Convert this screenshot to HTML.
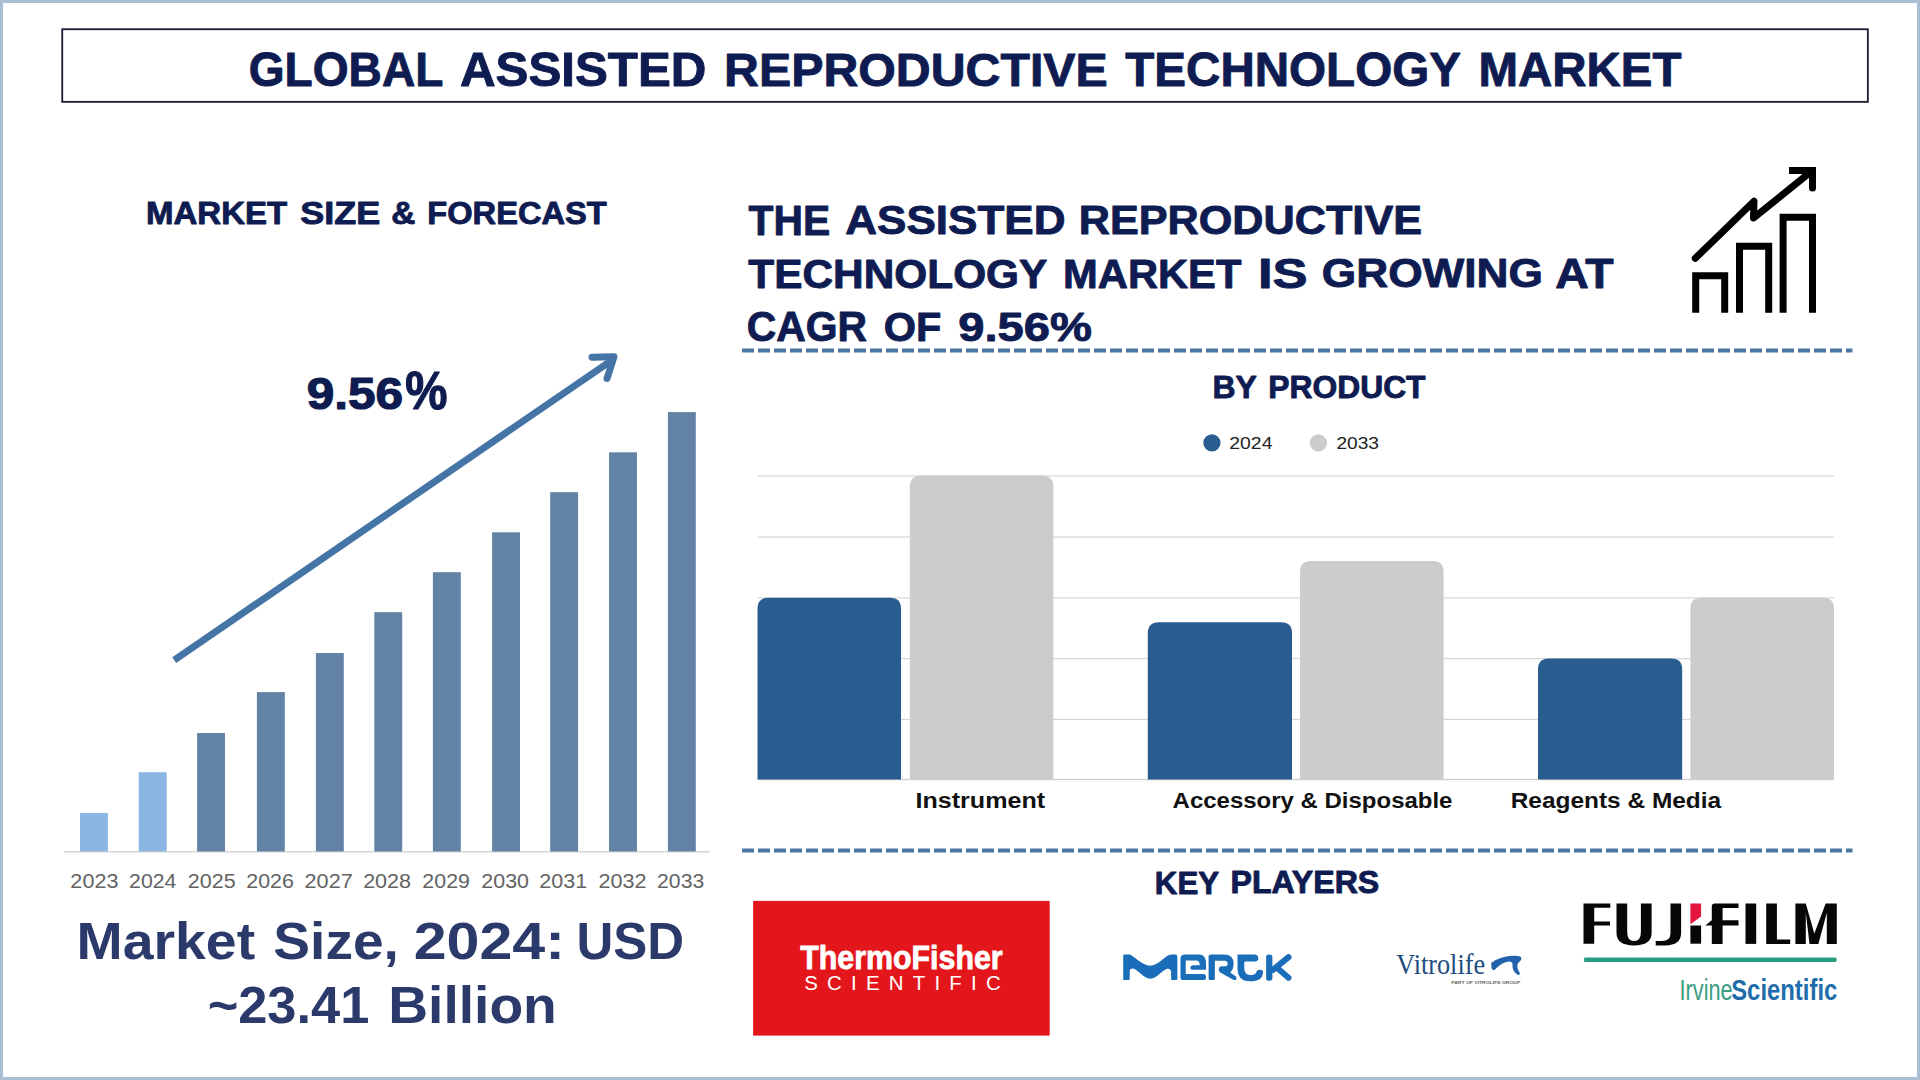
<!DOCTYPE html>
<html><head><meta charset="utf-8"><title>Global Assisted Reproductive Technology Market</title>
<style>html,body{margin:0;padding:0;background:#fff;overflow:hidden;width:1920px;height:1080px;} svg{display:block;}</style></head>
<body><svg width="1920" height="1080" viewBox="0 0 1920 1080">
<rect width="1920" height="1080" fill="#ffffff"/>
<rect x="1.5" y="1.5" width="1917" height="1077" fill="none" stroke="#a6bfd5" stroke-width="3"/>
<rect x="62.25" y="29.25" width="1805.6" height="72.6" fill="none" stroke="#161b33" stroke-width="1.8"/>
<rect x="64" y="851" width="646" height="1.6" fill="#d9d9d9"/>
<rect x="80" y="813" width="27.9" height="38.5" fill="#8bb5e2"/>
<rect x="138.75" y="772.2" width="27.9" height="79.3" fill="#8bb5e2"/>
<rect x="197.1" y="733" width="27.9" height="118.5" fill="#6283a5"/>
<rect x="256.9" y="692.1" width="27.9" height="159.4" fill="#6283a5"/>
<rect x="315.9" y="653" width="27.9" height="198.5" fill="#6283a5"/>
<rect x="374.3" y="612.2" width="27.9" height="239.3" fill="#6283a5"/>
<rect x="432.9" y="572.2" width="27.9" height="279.3" fill="#6283a5"/>
<rect x="492.1" y="532.3" width="27.9" height="319.2" fill="#6283a5"/>
<rect x="550.2" y="492.2" width="27.9" height="359.3" fill="#6283a5"/>
<rect x="609.05" y="452.3" width="27.9" height="399.2" fill="#6283a5"/>
<rect x="667.9" y="412.1" width="27.9" height="439.4" fill="#6283a5"/>
<line x1="174.2" y1="660.1" x2="611" y2="360.8" stroke="#4475a6" stroke-width="7"/>
<path d="M592,357.2 L614,356.8 L607,378.5" fill="none" stroke="#4475a6" stroke-width="7" stroke-linecap="round" stroke-linejoin="round"/>
<line x1="742" y1="350.5" x2="1852.5" y2="350.5" stroke="#4a77a3" stroke-width="4" stroke-dasharray="12 4"/>
<line x1="742" y1="850.5" x2="1852.5" y2="850.5" stroke="#4a77a3" stroke-width="4" stroke-dasharray="12 4"/>
<g fill="none" stroke="#000" stroke-width="7" stroke-linejoin="miter"><path d="M1695.7,312.7 V275.8 H1724.7 V312.7"/><path d="M1739.5,312.7 V246.2 H1768.7 V312.7"/><path d="M1783.1,312.7 V217.2 H1812.5 V312.7"/><path d="M1695.3,258.3 L1754,201.3 L1753.5,218 L1810,172.5" stroke-linecap="round" stroke-linejoin="round"/><path d="M1789,170.6 H1812.5 V188" stroke-linecap="butt"/></g>
<circle cx="1812.5" cy="188" r="3.5" fill="#000"/>
<rect x="757.5" y="475.30" width="1076.5" height="1.2" fill="#d6d6d6"/>
<rect x="757.5" y="536.40" width="1076.5" height="1.2" fill="#d6d6d6"/>
<rect x="757.5" y="597.30" width="1076.5" height="1.2" fill="#d6d6d6"/>
<rect x="757.5" y="658.00" width="1076.5" height="1.2" fill="#d6d6d6"/>
<rect x="757.5" y="718.80" width="1076.5" height="1.2" fill="#d6d6d6"/>
<rect x="757.5" y="778.9" width="1076.5" height="1.3" fill="#cfcfcf"/>
<path d="M757.5,779.4 V608.7 Q757.5,597.7 768.5,597.7 H890 Q901,597.7 901,608.7 V779.4 Z" fill="#2a5d8f"/>
<path d="M909.8,779.4 V486.8 Q909.8,475.8 920.8,475.8 H1042.3 Q1053.3,475.8 1053.3,486.8 V779.4 Z" fill="#cccccc"/>
<path d="M1147.8,779.4 V633.2 Q1147.8,622.2 1158.8,622.2 H1281 Q1292,622.2 1292,633.2 V779.4 Z" fill="#2a5d8f"/>
<path d="M1300,779.4 V572 Q1300,561 1311,561 H1432.6 Q1443.6,561 1443.6,572 V779.4 Z" fill="#cccccc"/>
<path d="M1538,779.4 V669.4 Q1538,658.4 1549,658.4 H1671.2 Q1682.2,658.4 1682.2,669.4 V779.4 Z" fill="#2a5d8f"/>
<path d="M1690.4,779.4 V608.7 Q1690.4,597.7 1701.4,597.7 H1823 Q1834,597.7 1834,608.7 V779.4 Z" fill="#cccccc"/>
<circle cx="1211.9" cy="442.9" r="8.6" fill="#2a5d8f"/>
<circle cx="1318.4" cy="442.9" r="8.6" fill="#cccccc"/>
<rect x="753.1" y="900.9" width="296.6" height="134.7" fill="#e3171b"/>
<g fill="#1a6db8"><g transform="translate(1118,948) scale(0.0520833)"><path d="M100,600 V150 Q100,125 130,125 H230 C330,170 450,330 620,340 C800,330 900,125 1030,125 H1100 Q1140,125 1140,170 V595 Q1140,615 1120,615 H1040 Q1020,615 1020,595 V450 Q1010,390 950,400 C850,420 750,590 620,590 C490,590 390,420 290,395 Q225,385 225,450 V595 Q225,615 205,615 H120 Q100,615 100,600 Z"/><path d="M1200,560 V200 Q1200,125 1290,125 H1560 Q1690,125 1690,300 V420 H1420 Q1390,420 1390,380 Q1390,330 1440,330 H1570 Q1570,240 1500,240 H1300 V500 H1640 Q1690,500 1690,560 Q1690,615 1640,615 H1260 Q1200,615 1200,560 Z"/></g><g transform="translate(1200,948) scale(0.0520833)"><path d="M165,590 V170 Q165,125 220,125 H460 Q645,125 645,300 Q645,420 580,470 L690,545 Q720,580 690,610 Q670,625 630,605 L390,470 Q355,450 360,400 Q365,350 410,350 H500 Q530,350 530,300 Q530,245 470,245 H285 V590 Q285,615 255,615 H195 Q165,615 165,590 Z"/><path d="M1120,200 Q1120,125 1040,125 H720 V380 Q720,640 960,640 Q1210,640 1210,460 Q1210,420 1150,420 Q1090,420 1080,470 Q1050,520 960,520 Q850,520 850,380 V280 Q850,260 880,260 H1040 Q1120,260 1120,200 Z"/><path d="M1270,170 Q1270,125 1330,125 Q1390,125 1390,170 V585 Q1390,630 1330,630 Q1270,630 1270,585 Z"/><path d="M1400,420 L1700,175 M1500,400 L1700,570" fill="none" stroke="#1a6db8" stroke-width="115" stroke-linecap="round"/></g></g>
<path d="M1491.2,963 Q1500,956 1514,955.8 Q1521.5,955.6 1521.5,958.5 Q1521,961 1518,963 Q1516,967 1519.8,973 Q1520,975.5 1518,975 Q1512,971 1512.5,965 Q1513,961.5 1509,961.5 Q1502,962 1495,969.5 Q1492,971 1491.5,968 Z" fill="#2162aa"/>
<g fill="#060606"><path d="M1583.5,943.7 V903.5 H1610.3 V907.8 H1594.2 V921.4 H1610 V925.5 H1594.2 V943.7 Z"/><path d="M1616.5,903.5 H1627.2 V932 Q1627.2,941 1634,941 Q1640.9,941 1640.9,932 V903.5 H1651.6 V933 Q1651.6,945.4 1634,945.4 Q1616.5,945.4 1616.5,933 Z"/><path d="M1670.5,903.5 H1681.1 V933 Q1681.1,945.4 1665,945.4 H1655.7 V941 H1662 Q1670.5,941 1670.5,933 Z"/><path d="M1690.4,925.5 H1701.1 V943.7 H1690.4 Z"/><path d="M1711.8,943.9 V906 Q1711.8,903.5 1715,903.5 H1738.5 V908 H1722.6 V920.2 H1738.5 V925.4 H1722.6 V943.9 Z M1705.2,925.4 L1711.8,920.2 V925.4 Z"/><path d="M1745.5,903.5 H1756.2 V943.9 H1745.5 Z"/><path d="M1766.2,903.5 H1776.9 V939.4 H1790.2 V943.9 H1766.2 Z"/><path d="M1795.4,943.9 V903.5 H1805.8 L1814.3,933.5 L1825.7,903.5 H1836.8 V943.9 H1826.8 V912.8 L1818.4,943.9 H1809.5 L1805.8,912.8 V943.9 Z"/></g>
<path d="M1690.4,903.5 H1701.1 V916.6 L1690.4,924.2 Z" fill="#e3173e"/>
<rect x="1583.9" y="957.4" width="252.7" height="4.7" rx="1.5" fill="#2a9c82"/>
<text x="248.77" y="85.75" font-family="'Liberation Sans', sans-serif" font-weight="bold" font-size="47.68" fill="#0f1c52" stroke="#0f1c52" stroke-width="0.9" stroke-linejoin="round" textLength="194.57" lengthAdjust="spacingAndGlyphs">GLOBAL</text>
<text x="459.95" y="85.75" font-family="'Liberation Sans', sans-serif" font-weight="bold" font-size="47.68" fill="#0f1c52" stroke="#0f1c52" stroke-width="0.9" stroke-linejoin="round" textLength="246.49" lengthAdjust="spacingAndGlyphs">ASSISTED</text>
<text x="724.12" y="85.97" font-family="'Liberation Sans', sans-serif" font-weight="bold" font-size="46.89" fill="#0f1c52" stroke="#0f1c52" stroke-width="0.9" stroke-linejoin="round" textLength="383.66" lengthAdjust="spacingAndGlyphs">REPRODUCTIVE</text>
<text x="1125.22" y="85.91" font-family="'Liberation Sans', sans-serif" font-weight="bold" font-size="47.89" fill="#0f1c52" stroke="#0f1c52" stroke-width="0.9" stroke-linejoin="round" textLength="335.72" lengthAdjust="spacingAndGlyphs">TECHNOLOGY</text>
<text x="1478.48" y="85.85" font-family="'Liberation Sans', sans-serif" font-weight="bold" font-size="47.86" fill="#0f1c52" stroke="#0f1c52" stroke-width="0.9" stroke-linejoin="round" textLength="203.04" lengthAdjust="spacingAndGlyphs">MARKET</text>
<text x="146.06" y="224.28" font-family="'Liberation Sans', sans-serif" font-weight="bold" font-size="31.14" fill="#0f1c52" stroke="#0f1c52" stroke-width="0.9" stroke-linejoin="round" textLength="141.10" lengthAdjust="spacingAndGlyphs">MARKET</text>
<text x="300.16" y="224.00" font-family="'Liberation Sans', sans-serif" font-weight="bold" font-size="31.02" fill="#0f1c52" stroke="#0f1c52" stroke-width="0.9" stroke-linejoin="round" textLength="79.98" lengthAdjust="spacingAndGlyphs">SIZE</text>
<text x="391.36" y="224.35" font-family="'Liberation Sans', sans-serif" font-weight="bold" font-size="31.83" fill="#0f1c52" stroke="#0f1c52" stroke-width="0.9" stroke-linejoin="round" textLength="24.05" lengthAdjust="spacingAndGlyphs">&amp;</text>
<text x="427.37" y="224.35" font-family="'Liberation Sans', sans-serif" font-weight="bold" font-size="31.83" fill="#0f1c52" stroke="#0f1c52" stroke-width="0.9" stroke-linejoin="round" textLength="179.26" lengthAdjust="spacingAndGlyphs">FORECAST</text>
<text x="306.65" y="408.60" font-family="'Liberation Sans', sans-serif" font-weight="bold" font-size="44.83" fill="#0f1c50" stroke="#0f1c50" stroke-width="1.2" stroke-linejoin="round" textLength="96.33" lengthAdjust="spacingAndGlyphs">9.56</text>
<text x="405.37" y="408.60" font-family="'Liberation Sans', sans-serif" font-weight="bold" font-size="54.14" fill="#0f1c50" stroke="#0f1c50" stroke-width="1.2" stroke-linejoin="round" textLength="42.16" lengthAdjust="spacingAndGlyphs">%</text>
<text x="76.62" y="959.20" font-family="'Liberation Sans', sans-serif" font-weight="bold" font-size="52.18" fill="#2c3a6b" textLength="178.49" lengthAdjust="spacingAndGlyphs">Market</text>
<text x="273.38" y="959.20" font-family="'Liberation Sans', sans-serif" font-weight="bold" font-size="52.18" fill="#2c3a6b" textLength="125.51" lengthAdjust="spacingAndGlyphs">Size,</text>
<text x="413.65" y="959.20" font-family="'Liberation Sans', sans-serif" font-weight="bold" font-size="52.18" fill="#2c3a6b" textLength="151.27" lengthAdjust="spacingAndGlyphs">2024:</text>
<text x="576.52" y="958.95" font-family="'Liberation Sans', sans-serif" font-weight="bold" font-size="52.13" fill="#2c3a6b" textLength="107.69" lengthAdjust="spacingAndGlyphs">USD</text>
<text x="207.65" y="1022.50" font-family="'Liberation Sans', sans-serif" font-weight="bold" font-size="52.56" fill="#2c3a6b" textLength="161.66" lengthAdjust="spacingAndGlyphs">~23.41</text>
<text x="388.23" y="1022.50" font-family="'Liberation Sans', sans-serif" font-weight="bold" font-size="52.56" fill="#2c3a6b" textLength="168.62" lengthAdjust="spacingAndGlyphs">Billion</text>
<text x="748.62" y="234.70" font-family="'Liberation Sans', sans-serif" font-weight="bold" font-size="41.83" fill="#0f1c52" stroke="#0f1c52" stroke-width="0.9" stroke-linejoin="round" textLength="81.66" lengthAdjust="spacingAndGlyphs">THE</text>
<text x="845.16" y="234.35" font-family="'Liberation Sans', sans-serif" font-weight="bold" font-size="41.13" fill="#0f1c52" stroke="#0f1c52" stroke-width="0.9" stroke-linejoin="round" textLength="220.43" lengthAdjust="spacingAndGlyphs">ASSISTED</text>
<text x="1078.69" y="234.44" font-family="'Liberation Sans', sans-serif" font-weight="bold" font-size="41.09" fill="#0f1c52" stroke="#0f1c52" stroke-width="0.9" stroke-linejoin="round" textLength="343.35" lengthAdjust="spacingAndGlyphs">REPRODUCTIVE</text>
<text x="748.37" y="287.91" font-family="'Liberation Sans', sans-serif" font-weight="bold" font-size="40.87" fill="#0f1c52" stroke="#0f1c52" stroke-width="0.9" stroke-linejoin="round" textLength="298.95" lengthAdjust="spacingAndGlyphs">TECHNOLOGY</text>
<text x="1063.07" y="287.58" font-family="'Liberation Sans', sans-serif" font-weight="bold" font-size="41.42" fill="#0f1c52" stroke="#0f1c52" stroke-width="0.9" stroke-linejoin="round" textLength="178.29" lengthAdjust="spacingAndGlyphs">MARKET</text>
<text x="1257.98" y="287.56" font-family="'Liberation Sans', sans-serif" font-weight="bold" font-size="42.48" fill="#0f1c52" stroke="#0f1c52" stroke-width="0.9" stroke-linejoin="round" textLength="49.64" lengthAdjust="spacingAndGlyphs">IS</text>
<text x="1321.82" y="287.46" font-family="'Liberation Sans', sans-serif" font-weight="bold" font-size="41.19" fill="#0f1c52" stroke="#0f1c52" stroke-width="0.9" stroke-linejoin="round" textLength="221.17" lengthAdjust="spacingAndGlyphs">GROWING</text>
<text x="1555.29" y="287.56" font-family="'Liberation Sans', sans-serif" font-weight="bold" font-size="41.92" fill="#0f1c52" stroke="#0f1c52" stroke-width="0.9" stroke-linejoin="round" textLength="58.40" lengthAdjust="spacingAndGlyphs">AT</text>
<text x="746.79" y="341.10" font-family="'Liberation Sans', sans-serif" font-weight="bold" font-size="41.88" fill="#0f1c52" stroke="#0f1c52" stroke-width="0.9" stroke-linejoin="round" textLength="120.25" lengthAdjust="spacingAndGlyphs">CAGR</text>
<text x="883.81" y="340.81" font-family="'Liberation Sans', sans-serif" font-weight="bold" font-size="40.69" fill="#0f1c52" stroke="#0f1c52" stroke-width="0.9" stroke-linejoin="round" textLength="57.57" lengthAdjust="spacingAndGlyphs">OF</text>
<text x="958.21" y="340.55" font-family="'Liberation Sans', sans-serif" font-weight="bold" font-size="40.99" fill="#0f1c52" stroke="#0f1c52" stroke-width="0.9" stroke-linejoin="round" textLength="133.65" lengthAdjust="spacingAndGlyphs">9.56%</text>
<text x="1212.49" y="397.60" font-family="'Liberation Sans', sans-serif" font-weight="bold" font-size="32.06" fill="#0f1c52" stroke="#0f1c52" stroke-width="0.9" stroke-linejoin="round" textLength="44.35" lengthAdjust="spacingAndGlyphs">BY</text>
<text x="1268.38" y="397.75" font-family="'Liberation Sans', sans-serif" font-weight="bold" font-size="30.96" fill="#0f1c52" stroke="#0f1c52" stroke-width="0.9" stroke-linejoin="round" textLength="157.17" lengthAdjust="spacingAndGlyphs">PRODUCT</text>
<text x="1229.34" y="448.70" font-family="'Liberation Sans', sans-serif" font-weight="normal" font-size="16.90" fill="#222222" textLength="43.09" lengthAdjust="spacingAndGlyphs">2024</text>
<text x="1336.44" y="448.70" font-family="'Liberation Sans', sans-serif" font-weight="normal" font-size="16.90" fill="#222222" textLength="42.57" lengthAdjust="spacingAndGlyphs">2033</text>
<text x="915.51" y="808.00" font-family="'Liberation Sans', sans-serif" font-weight="bold" font-size="22.82" fill="#111111" textLength="129.62" lengthAdjust="spacingAndGlyphs">Instrument</text>
<text x="1172.57" y="808.00" font-family="'Liberation Sans', sans-serif" font-weight="bold" font-size="22.82" fill="#111111" textLength="279.90" lengthAdjust="spacingAndGlyphs">Accessory &amp; Disposable</text>
<text x="1510.70" y="808.00" font-family="'Liberation Sans', sans-serif" font-weight="bold" font-size="22.82" fill="#111111" textLength="210.46" lengthAdjust="spacingAndGlyphs">Reagents &amp; Media</text>
<text x="1154.84" y="893.87" font-family="'Liberation Sans', sans-serif" font-weight="bold" font-size="30.99" fill="#0f1c52" stroke="#0f1c52" stroke-width="0.9" stroke-linejoin="round" textLength="64.25" lengthAdjust="spacingAndGlyphs">KEY</text>
<text x="1230.60" y="893.45" font-family="'Liberation Sans', sans-serif" font-weight="bold" font-size="30.67" fill="#0f1c52" stroke="#0f1c52" stroke-width="0.9" stroke-linejoin="round" textLength="148.63" lengthAdjust="spacingAndGlyphs">PLAYERS</text>
<text x="800.22" y="969.35" font-family="'Liberation Sans', sans-serif" font-weight="bold" font-size="32.99" fill="#ffffff" stroke="#ffffff" stroke-width="0.8" stroke-linejoin="round" textLength="202.41" lengthAdjust="spacingAndGlyphs">ThermoFisher</text>
<text x="804.21" y="989.82" font-family="'Liberation Sans', sans-serif" font-weight="normal" font-size="20.45" fill="#ffffff" textLength="196.45" lengthAdjust="spacing">SCIENTIFIC</text>
<text x="1396.29" y="973.60" font-family="'Liberation Serif', serif" font-weight="normal" font-size="29.93" fill="#1e4d80" textLength="88.77" lengthAdjust="spacingAndGlyphs">Vitrolife</text>
<text x="1451.22" y="984.18" font-family="'Liberation Sans', sans-serif" font-weight="bold" font-size="4.06" fill="#666666" textLength="69.10" lengthAdjust="spacingAndGlyphs">PART OF VITROLIFE GROUP</text>
<text x="1679.50" y="1000.00" font-family="'Liberation Sans', sans-serif" font-weight="normal" font-size="29.65" fill="#3a9e82" textLength="53.11" lengthAdjust="spacingAndGlyphs">Irvine</text>
<text x="1731.19" y="1000.00" font-family="'Liberation Sans', sans-serif" font-weight="bold" font-size="29.65" fill="#1f6dab" textLength="106.12" lengthAdjust="spacingAndGlyphs">Scientific</text>
<text x="70.38" y="887.80" font-family="'Liberation Sans', sans-serif" font-weight="normal" font-size="20.12" fill="#636363" textLength="48.04" lengthAdjust="spacingAndGlyphs">2023</text>
<text x="129.08" y="887.80" font-family="'Liberation Sans', sans-serif" font-weight="normal" font-size="20.12" fill="#636363" textLength="47.37" lengthAdjust="spacingAndGlyphs">2024</text>
<text x="187.87" y="887.80" font-family="'Liberation Sans', sans-serif" font-weight="normal" font-size="20.12" fill="#636363" textLength="47.87" lengthAdjust="spacingAndGlyphs">2025</text>
<text x="246.27" y="887.80" font-family="'Liberation Sans', sans-serif" font-weight="normal" font-size="20.12" fill="#636363" textLength="47.66" lengthAdjust="spacingAndGlyphs">2026</text>
<text x="304.60" y="887.80" font-family="'Liberation Sans', sans-serif" font-weight="normal" font-size="20.12" fill="#636363" textLength="48.12" lengthAdjust="spacingAndGlyphs">2027</text>
<text x="363.17" y="887.80" font-family="'Liberation Sans', sans-serif" font-weight="normal" font-size="20.12" fill="#636363" textLength="47.86" lengthAdjust="spacingAndGlyphs">2028</text>
<text x="422.38" y="887.80" font-family="'Liberation Sans', sans-serif" font-weight="normal" font-size="20.12" fill="#636363" textLength="47.58" lengthAdjust="spacingAndGlyphs">2029</text>
<text x="481.28" y="887.80" font-family="'Liberation Sans', sans-serif" font-weight="normal" font-size="20.12" fill="#636363" textLength="47.74" lengthAdjust="spacingAndGlyphs">2030</text>
<text x="539.38" y="887.80" font-family="'Liberation Sans', sans-serif" font-weight="normal" font-size="20.12" fill="#636363" textLength="47.84" lengthAdjust="spacingAndGlyphs">2031</text>
<text x="598.43" y="887.80" font-family="'Liberation Sans', sans-serif" font-weight="normal" font-size="20.12" fill="#636363" textLength="48.13" lengthAdjust="spacingAndGlyphs">2032</text>
<text x="657.08" y="887.80" font-family="'Liberation Sans', sans-serif" font-weight="normal" font-size="20.12" fill="#636363" textLength="47.18" lengthAdjust="spacingAndGlyphs">2033</text>
</svg></body></html>
